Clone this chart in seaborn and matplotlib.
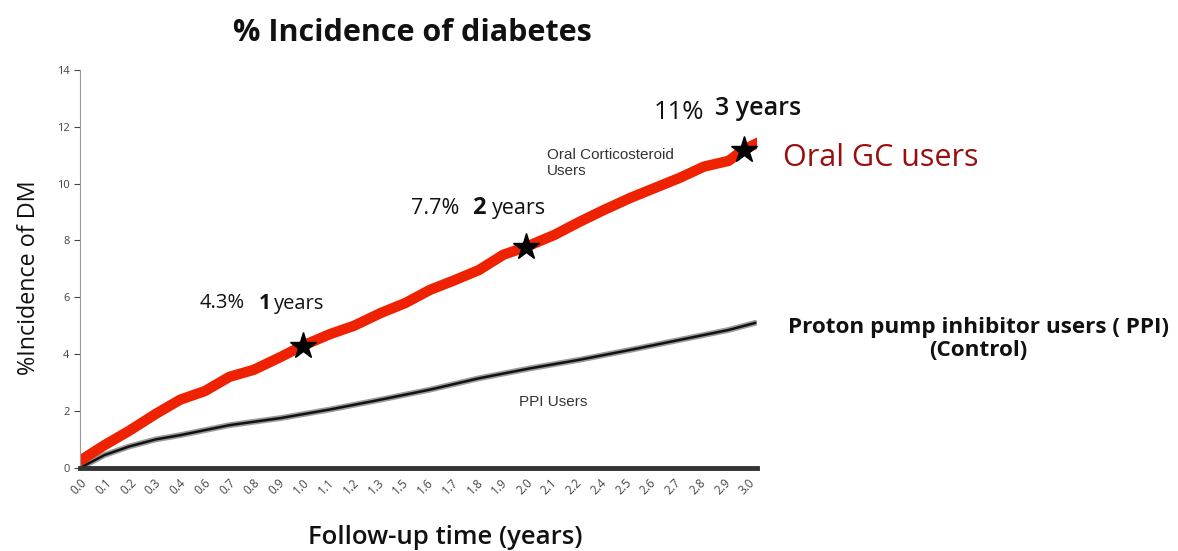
import numpy as np
import pandas as pd
import matplotlib
matplotlib.use('Agg')
import matplotlib.pyplot as plt
import seaborn as sns

## Dados
anos_gc = [0.0, 0.11, 0.22, 0.34, 0.45, 0.56, 0.67, 0.78, 0.9, 1.0, 1.12, 1.23, 1.35, 1.46,
           1.57, 1.68, 1.79, 1.9, 2.0, 2.13, 2.24, 2.35, 2.47, 2.58, 2.69, 2.8, 2.91, 2.98, 3.05]
incid_gc = [0.25, 0.8, 1.3, 1.9, 2.4, 2.7, 3.2, 3.45, 3.9, 4.3, 4.7, 5.0, 5.45, 5.8,
            6.26, 6.6, 6.96, 7.5, 7.77, 8.2, 8.65, 9.07, 9.5, 9.85, 10.2, 10.6, 10.8, 11.2, 11.47]

anos_ppi = [0.0, 0.11, 0.22, 0.34, 0.45, 0.67, 0.9, 1.12, 1.35, 1.57, 1.79, 2.02, 2.24, 2.47,
            2.69, 2.91, 3.03]
incid_ppi = [0.0, 0.45, 0.75, 1.0, 1.15, 1.5, 1.75, 2.05, 2.4, 2.75, 3.15, 3.5, 3.8, 4.15,
             4.5, 4.85, 5.1]

marcos_anos = [1.0, 2.0, 2.98]
marcos_incid = [4.3, 7.77, 11.2]

rotulos_x = ['0.0', '0.1', '0.2', '0.3', '0.4', '0.6', '0.7', '0.8', '0.9', '1.0', '1.1', '1.2',
             '1.3', '1.5', '1.6', '1.7', '1.8', '1.9', '2.0', '2.1', '2.2', '2.4', '2.5', '2.6',
             '2.7', '2.8', '2.9', '3.0']

df_gc = pd.DataFrame({'anos': anos_gc, 'incid': incid_gc})
df_ppi = pd.DataFrame({'anos': anos_ppi, 'incid': incid_ppi})

sns.set_style('white')
plt.rcParams['font.family'] = ['Open Sans', 'DejaVu Sans']

fig = plt.figure(figsize=(11.78, 5.51), dpi=100)
ax = fig.add_axes([0.068, 0.151, 0.575, 0.722])

sns.lineplot(data=df_ppi, x='anos', y='incid', ax=ax, color='#9a9a9a', linewidth=4.2)
sns.lineplot(data=df_ppi, x='anos', y='incid', ax=ax, color='#111111', linewidth=1.8)
sns.lineplot(data=df_gc, x='anos', y='incid', ax=ax, color='#ee2200', linewidth=7.5)
ax.plot(marcos_anos, marcos_incid, linestyle='none', marker='*', markersize=20, color='black', zorder=5)

ax.set_xlim(0, 3.04)
ax.set_ylim(0, 14)
ax.set_yticks(range(0, 15, 2))
ax.tick_params(axis='y', labelsize=8, colors='#444444', length=4, width=0.8, left=True)
ax.set_xticks([i / 9 for i in range(len(rotulos_x))])
ax.set_xticklabels(rotulos_x, rotation=45, ha='right', rotation_mode='anchor', fontsize=8.5, color='#444444')
ax.tick_params(axis='x', length=0, pad=6)

for lado in ['top', 'right']:
    ax.spines[lado].set_visible(False)
ax.spines['left'].set_color('#999999')
ax.spines['left'].set_linewidth(0.8)
ax.spines['bottom'].set_color('#333333')
ax.spines['bottom'].set_linewidth(3.5)

ax.set_xlabel('Follow-up time (years)', fontsize=18.5, fontweight='semibold', color='#111111')
ax.xaxis.set_label_coords(0.539, -0.143)
ax.set_ylabel('%Incidence of DM', fontsize=16.8, color='#111111')
ax.yaxis.set_label_coords(-0.057, 0.477)

# Anotações
ax.text(0.74, 5.8, '4.3%', fontsize=14.5, ha='right', va='center', color='#111111')
ax.text(0.80, 5.77, '1', fontsize=15, fontweight='bold', ha='left', va='center', color='#111111')
ax.text(0.87, 5.77, 'years', fontsize=14.5, fontweight='medium', ha='left', va='center', color='#111111')
ax.text(1.70, 9.12, '7.7%', fontsize=15.5, ha='right', va='center', color='#111111')
ax.text(1.76, 9.15, '2', fontsize=17, fontweight='bold', ha='left', va='center', color='#111111')
ax.text(1.85, 9.12, 'years', fontsize=15.5, fontweight='medium', ha='left', va='center', color='#111111')
ax.text(2.80, 12.5, '11%', fontsize=18.5, ha='right', va='center', color='#111111')
ax.text(2.85, 12.65, '3 years', fontsize=18, fontweight='semibold', ha='left', va='center', color='#111111')

ax.text(2.094, 10.73, 'Oral Corticosteroid\nUsers', fontsize=11, ha='left', va='center',
        color='#333333', linespacing=1.2, family=['Liberation Sans', 'DejaVu Sans'])
ax.text(1.97, 2.32, 'PPI Users', fontsize=11, ha='left', va='center', color='#333333',
        family=['Liberation Sans', 'DejaVu Sans'])

fig.text(0.350, 0.94, '% Incidence of diabetes', fontsize=22, fontweight='bold', ha='center',
         va='center', color='#111111')
fig.text(0.665, 0.713, 'Oral GC users', fontsize=22, ha='left', va='center', color='#990f0f')
fig.text(0.8307, 0.385, 'Proton pump inhibitor users ( PPI)\n(Control)', fontsize=16.2,
         fontweight='bold', ha='center', va='center', color='#111111', linespacing=1.12)

plt.savefig('out.png', dpi=100)
